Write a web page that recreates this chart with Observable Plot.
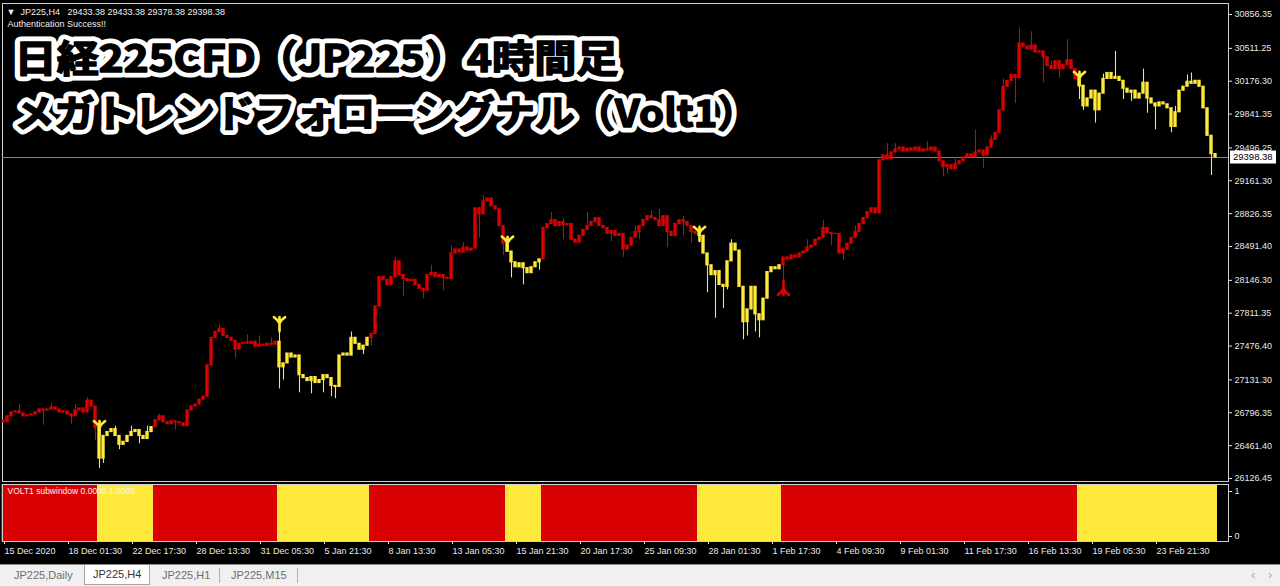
<!DOCTYPE html>
<html><head><meta charset="utf-8">
<script src="https://cdn.jsdelivr.net/npm/d3@7"></script>
<script src="https://cdn.jsdelivr.net/npm/@observablehq/plot@0.6"></script>
<style>
html,body{margin:0;padding:0;background:#000;}
#root{position:relative;width:1280px;height:586px;background:#000;overflow:hidden;font-family:"Liberation Sans",Arial,sans-serif;}
#main{position:absolute;left:0;top:0;}
#sep{position:absolute;left:2px;top:482px;width:1227px;height:2px;background:#8a8a8a;}
#sub{position:absolute;left:0;top:482px;}
#tabs{position:absolute;left:0;top:564px;width:1280px;height:21px;background:#f0f0f0;border-top:1px solid #8c8c8c;font-size:11px;color:#6e6e6e;}
#tabs span{position:absolute;top:4px;white-space:nowrap;}
#tabs .active{top:0;height:20px;line-height:19px;padding:0 8px;background:#fff;border:1px solid #a6a6a6;border-top:none;color:#333;box-sizing:border-box;}
#tabs .sep{top:3px;width:1px;height:15px;background:#b0b0b0;}
</style></head>
<body><div id="root"><div id="main"></div><div id="sep"></div><div id="sub"></div><div id="tabs"></div></div>
<script>
// ---- data ----
const firstOpen = 26720;
const closes = [
26700,26760,26800,26810,26790,26760,26770,26780,26800,26830,
26820,26830,26850,26830,26800,26810,26780,26760,26820,26840,
26800,26920,26860,26640,26330,26560,26600,26630,26560,26470,
26500,26560,26600,26620,26560,26530,26600,26650,26720,26760,
26700,26680,26710,26700,26690,26660,26820,26860,26880,26930,
26960,27280,27560,27620,27650,27580,27560,27530,27440,27500,
27510,27500,27520,27470,27490,27480,27500,27490,27520,27260,
27300,27400,27360,27380,27180,27150,27120,27160,27100,27130,
27180,27150,27070,27060,27380,27400,27380,27560,27500,27440,
27480,27560,27600,27880,28180,28150,28100,28180,28340,28200,
28160,28140,28150,28100,28060,28040,28200,28220,28180,28200,
28170,28160,28420,28460,28430,28480,28450,28470,28880,28820,
28950,28980,28900,28870,28700,28520,28440,28330,28280,28320,
28270,28220,28280,28330,28360,28680,28720,28760,28700,28740,
28710,28720,28560,28530,28600,28660,28700,28740,28780,28700,
28680,28620,28650,28600,28620,28460,28500,28580,28640,28700,
28760,28800,28780,28760,28700,28800,28640,28600,28720,28760,
28740,28700,28640,28620,28600,28420,28300,28200,28240,28100,
28080,28340,28520,28450,28080,27720,27850,28080,27800,27740,
27960,28230,28280,28260,28300,28380,28360,28400,28380,28420,
28440,28480,28500,28560,28580,28680,28630,28620,28620,28420,
28460,28520,28580,28640,28720,28780,28840,28880,28830,29370,
29420,29380,29450,29480,29500,29460,29490,29470,29500,29460,
29480,29470,29500,29460,29360,29300,29320,29280,29330,29360,
29400,29430,29400,29450,29470,29420,29500,29580,29650,29880,
30120,30180,30240,30210,30560,30530,30500,30540,30470,30480,
30420,30330,30300,30380,30300,30340,30390,30300,30200,30130,
29920,30000,30080,29880,30050,30200,30260,30200,30220,30180,
30100,30060,30080,30000,30050,30160,30000,29950,29920,29960,
29940,29900,29710,29860,30080,30120,30170,30150,30180,30120,
29900,29620,29433.38,29398.38
];
// notable upper wicks [bar, high] and lower wicks [bar, low]
const highWicks = [[4,26880],[12,26890],[18,26880],[21,26950],[28,26660],[32,26660],[36,26660],[39,26780],
[54,27700],[61,27590],[64,27580],[67,27560],[69,27700],[87,27620],[98,28380],[107,28300],[112,28500],
[115,28530],[120,29010],[137,28840],[140,28780],[146,28840],[158,28700],[162,28860],[164,28870],[170,28800],
[182,28560],[201,28560],[205,28760],[213,28700],[221,29540],[223,29540],[231,29560],[238,29400],[243,29680],
[247,29620],[250,30200],[254,30720],[257,30680],[262,30380],[266,30600],[275,30250],[278,30480],[285,30300],
[293,29920],[296,30240],[297,30260]];
const lowWicks = [[10,26670],[17,26680],[23,26510],[24,26230],[25,26280],[29,26420],[34,26480],[43,26620],
[58,27350],[69,27040],[70,27130],[74,27000],[77,26990],[80,27000],[82,26960],[83,26940],[90,27390],[92,27480],
[100,27980],[105,27960],[110,28040],[119,28580],[125,28400],[127,28170],[130,28100],[134,28250],[140,28560],
[152,28540],[155,28380],[159,28560],[166,28480],[170,28600],[172,28520],[176,28020],[178,27760],[180,27860],
[181,28050],[185,27540],[186,27580],[188,27620],[189,27560],[190,27780],[191,27990],[195,28070],[207,28500],
[210,28350],[219,28860],[235,29200],[236,29230],[245,29290],[250,29960],[253,29950],[260,30160],[264,30210],
[269,29990],[270,29880],[273,29750],[280,29990],[282,29970],[286,29850],[288,29680],[292,29650],[302,29215]];
// VOLT1 signal: yellow runs (inclusive bar ranges), red elsewhere
const yellowRanges = [[24,37],[69,91],[126,134],[174,194],[269,303]];
const downArrowBars = [24,69,126,174,269];
const upArrowBars = [195];
const yTicks = [30856.35,30511.25,30176.30,29841.35,29496.25,29161.30,28826.35,28491.40,28146.30,27811.35,27476.40,27131.30,26796.35,26461.40,26126.45];
const xTickIdx = [0,16,32,48,64,80,96,112,128,144,160,176,192,208,224,240,256,272,288];
const xTickLabels = ["15 Dec 2020","18 Dec 01:30","22 Dec 17:30","28 Dec 13:30","31 Dec 05:30","5 Jan 21:30","8 Jan 13:30","13 Jan 05:30","15 Jan 21:30","20 Jan 17:30","25 Jan 09:30","28 Jan 01:30","1 Feb 17:30","4 Feb 09:30","9 Feb 01:30","11 Feb 17:30","16 Feb 13:30","19 Feb 05:30","23 Feb 21:30"];
const headerText = "▼  JP225,H4   29433.38 29433.38 29378.38 29398.38";
const titleLines = ["日経225CFD（JP225）4時間足","メガトレンドフォローシグナル（Volt1）"];
const tabLabels = ["JP225,Daily","JP225,H4","JP225,H1","JP225,M15"];

// ---- build table ----
const RED = "#d80000", YEL = "#ffe93b";
const hMap = new Map(highWicks), lMap = new Map(lowWicks);
const sig = closes.map(() => "R");
yellowRanges.forEach(([a,b]) => { for (let k=a;k<=b;k++) sig[k]="Y"; });
const bars = closes.map((c,i) => {
  const o = i===0 ? firstOpen : closes[i-1];
  const h = Math.max(o,c,hMap.get(i) ?? -Infinity);
  const l = Math.min(o,c,lMap.get(i) ?? Infinity);
  return {i,o,h,l,c,col: sig[i]==="Y"?YEL:RED};
});
const lastClose = closes[closes.length-1];
const downArrows = downArrowBars.map(i => bars[i]);
const upArrows = upArrowBars.map(i => bars[i]);

const symDown = {draw(ctx, size){ const s=Math.sqrt(size/Math.PI);
  ctx.moveTo(0,-s); ctx.lineTo(0,s);
  ctx.moveTo(-0.8*s,-s); ctx.quadraticCurveTo(-0.2*s,-0.6*s,0,-0.1*s);
  ctx.moveTo(0.8*s,-s); ctx.quadraticCurveTo(0.2*s,-0.6*s,0,-0.1*s);}};
const symUp = {draw(ctx, size){ const s=Math.sqrt(size/Math.PI);
  ctx.moveTo(0,-s); ctx.lineTo(0,s);
  ctx.moveTo(-0.8*s,s); ctx.quadraticCurveTo(-0.2*s,0.6*s,0,0.1*s);
  ctx.moveTo(0.8*s,s); ctx.quadraticCurveTo(0.2*s,0.6*s,0,0.1*s);}};

const xScale = {type:"linear", domain:[-0.5,306.25], range:[1,1228], axis:null};
const baseStyle = {background:"#000", color:"#e8e8e8", fontFamily:"'Liberation Sans', Arial, sans-serif", fontSize:"9px"};
const titleFont = {frameAnchor:"top-left", dx:12, lineAnchor:"middle", fontSize:38, fontWeight:"bold", fontFamily:"'Noto Sans CJK JP', sans-serif", strokeLinejoin:"round", paintOrder:"stroke"};
const titleMarks = titleLines.flatMap((t,k) => [
  Plot.text([t], {...titleFont, text:d=>d, dy:56+55*k, fill:"#000", stroke:"#fff", strokeWidth:11, className:"ttl"}),
  Plot.text([t], {...titleFont, text:d=>d, dy:56+55*k, fill:"#000", stroke:"#000", strokeWidth:1.6, className:"ttl"})
]);

const main = Plot.plot({
  width:1280, height:482, marginTop:3, marginBottom:1, marginLeft:2, marginRight:52,
  style: baseStyle,
  x: xScale,
  y: {type:"linear", domain:[26126.45,30856.35], range:[478,14], axis:null},
  color: {type:"identity"},
  marks: [
    Plot.frame({stroke:"#d0d0d0"}),
    Plot.ruleY([lastClose], {stroke:"#778899", strokeWidth:1}),
    Plot.ruleX(bars, {x:"i", y1:"l", y2:"h", stroke:"col", strokeWidth:1.1}),
    Plot.rect(bars, {x1:d=>d.i-0.42, x2:d=>d.i+0.42, y1:"o", y2:"c", fill:"col", insetTop:-0.6, insetBottom:-0.6}),
    Plot.dot(downArrows, {x:"i", y:"h", r:7, symbol:symDown, stroke:YEL, strokeWidth:2.6, fill:"none", strokeLinecap:"round"}),
    Plot.dot(upArrows, {x:"i", y:"l", r:7, symbol:symUp, stroke:"#e00000", strokeWidth:2.6, fill:"none", strokeLinecap:"round"}),
    Plot.axisY(yTicks, {anchor:"right", tickSize:3, tickPadding:3, tickFormat:d=>d.toFixed(2), color:"#e8e8e8", fontSize:9}),
    Plot.text([headerText], {text:d=>d, frameAnchor:"top-left", dx:4, dy:8.5, lineAnchor:"middle", fill:"#f0f0f0", fontSize:9}),
    Plot.text(["Authentication Success!!"], {text:d=>d, frameAnchor:"top-left", dx:5, dy:21, lineAnchor:"middle", fill:"#f0f0f0", fontSize:9}),
    ...titleMarks
  ]
});
document.getElementById("main").appendChild(main);
// stretch title lines horizontally to match the heavy display face of the original
const stretch = [1.11, 1.055];
d3.select(main).selectAll("g.ttl").each(function(_, k) {
  const t = d3.select(this).select("text");
  const L = t.node().getComputedTextLength();
  t.attr("textLength", L * stretch[Math.floor(k/2)]).attr("lengthAdjust", "spacingAndGlyphs");
});
// current price label box on the price axis
{
  const yy = main.scale("y").apply(lastClose);
  const g = d3.select(main).append("g").attr("text-anchor","start");
  g.append("rect").attr("x",1230).attr("y",yy-6.5).attr("width",46).attr("height",13).attr("fill","#fff");
  g.append("text").attr("x",1233).attr("y",yy).attr("dy","0.35em").attr("fill","#000").attr("font-size",9.5).text(lastClose.toFixed(2));
}

const sub = Plot.plot({
  width:1280, height:84, marginTop:2, marginBottom:25, marginLeft:2, marginRight:52,
  style: baseStyle,
  x: xScale,
  y: {type:"linear", domain:[0,1], range:[54,9], axis:null},
  color: {type:"identity"},
  marks: [
    Plot.rect(bars, {x1:d=>d.i-0.5, x2:d=>d.i+0.5, fill:"col", shapeRendering:"crispEdges"}),
    Plot.frame({stroke:"#d0d0d0"}),
    Plot.axisY([0,1], {anchor:"right", tickSize:3, tickPadding:3, tickFormat:d=>String(d), color:"#e8e8e8", fontSize:9}),
    Plot.axisX(xTickIdx, {anchor:"bottom", tickSize:3, tickPadding:3, textAnchor:"start", dx:1, tickFormat:d=>xTickLabels[xTickIdx.indexOf(d)], color:"#e8e8e8", fontSize:9}),
    Plot.text(["VOLT1 subwindow 0.0000 1.0000"], {text:d=>d, frameAnchor:"top-left", dx:5, dy:7, lineAnchor:"middle", fill:"#f4f4f4", fontSize:8.5})
  ]
});
document.getElementById("sub").appendChild(sub);

// tab bar
const tabs = document.getElementById("tabs");
const tabLeft = [14,84,162,231];
tabLabels.forEach((t,k) => {
  const s = document.createElement("span");
  s.textContent = t; s.style.left = tabLeft[k]+"px";
  if (k===1) s.className = "active";
  tabs.appendChild(s);
});
[219,297].forEach(x => { const s=document.createElement("span"); s.className="sep"; s.style.left=x+"px"; tabs.appendChild(s); });
[["‹",1251],["›",1268]].forEach(([t,x]) => { const s=document.createElement("span"); s.textContent=t; s.style.left=x+"px"; s.style.color="#aaa"; s.style.top="2px"; s.style.fontSize="13px"; tabs.appendChild(s); });
</script>
</body></html>
